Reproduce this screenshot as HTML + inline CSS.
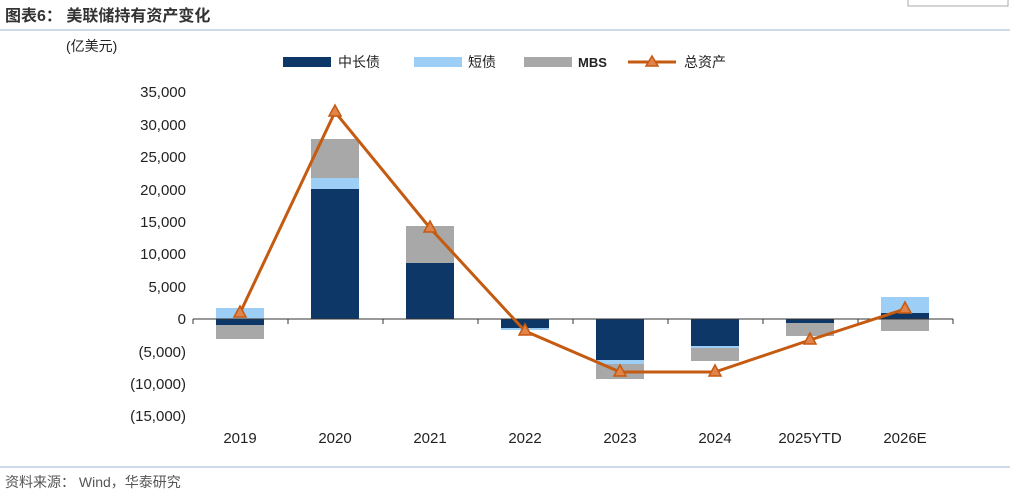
<!DOCTYPE html>
<html><head><meta charset="utf-8"><style>
body{margin:0;background:#fff;width:1024px;height:492px;overflow:hidden}
svg{display:block}
text{font-family:"Liberation Sans","Noto Sans CJK SC",sans-serif}
</style></head><body>
<svg width="1024" height="492" viewBox="0 0 1024 492">
<text x="5" y="21" font-size="16" font-weight="bold" fill="#333">图表6：  美联储持有资产变化</text>
<line x1="0" y1="30" x2="1010" y2="30" stroke="#9bb7d4" stroke-width="1"/>
<rect x="908" y="-6" width="100" height="12" fill="none" stroke="#aaa"/>
<text x="66" y="51" font-size="14" fill="#222">(亿美元)</text>
<!-- legend -->
<rect x="283" y="57" width="48" height="10" fill="#0c3767"/>
<text x="338" y="67" font-size="14" fill="#222">中长债</text>
<rect x="414" y="57" width="48" height="10" fill="#9dcef5"/>
<text x="468" y="67" font-size="14" fill="#222">短债</text>
<rect x="524" y="57" width="48" height="10" fill="#a8a8a8"/>
<text x="578" y="67" font-size="13" font-weight="bold" fill="#222">MBS</text>
<line x1="628" y1="62" x2="676" y2="62" stroke="#c55a11" stroke-width="3"/>
<polygon points="652,56 658,66 646,66" fill="#e0844a" stroke="#c55a11" stroke-width="1.5"/>
<text x="684" y="67" font-size="14" fill="#222">总资产</text>
<!-- y axis labels -->
<g font-size="15" fill="#222" text-anchor="end">
<text x="186" y="97">35,000</text>
<text x="186" y="130">30,000</text>
<text x="186" y="162">25,000</text>
<text x="186" y="195">20,000</text>
<text x="186" y="227">15,000</text>
<text x="186" y="259">10,000</text>
<text x="186" y="292">5,000</text>
<text x="186" y="324">0</text>
<text x="186" y="357">(5,000)</text>
<text x="186" y="389">(10,000)</text>
<text x="186" y="421">(15,000)</text>
</g>
<!-- bars -->
<g>
<rect x="216" y="319" width="48" height="6" fill="#0c3767"/>
<rect x="216" y="308" width="48" height="11" fill="#9dcef5"/>
<rect x="216" y="325" width="48" height="14" fill="#a8a8a8"/>

<rect x="311" y="189" width="48" height="130" fill="#0c3767"/>
<rect x="311" y="178" width="48" height="11" fill="#9dcef5"/>
<rect x="311" y="139" width="48" height="39" fill="#a8a8a8"/>

<rect x="406" y="263" width="48" height="56" fill="#0c3767"/>
<rect x="406" y="226" width="48" height="37" fill="#a8a8a8"/>

<rect x="501" y="319" width="48" height="9" fill="#0c3767"/>
<rect x="501" y="328" width="48" height="2" fill="#9dcef5"/>

<rect x="596" y="319" width="48" height="41" fill="#0c3767"/>
<rect x="596" y="360" width="48" height="4" fill="#9dcef5"/>
<rect x="596" y="364" width="48" height="15" fill="#a8a8a8"/>

<rect x="691" y="319" width="48" height="27" fill="#0c3767"/>
<rect x="691" y="346" width="48" height="2" fill="#9dcef5"/>
<rect x="691" y="348" width="48" height="13" fill="#a8a8a8"/>

<rect x="786" y="319" width="48" height="4" fill="#0c3767"/>
<rect x="786" y="323" width="48" height="13" fill="#a8a8a8"/>

<rect x="881" y="313" width="48" height="6" fill="#0c3767"/>
<rect x="881" y="297" width="48" height="16" fill="#9dcef5"/>
<rect x="881" y="319" width="48" height="12" fill="#a8a8a8"/>
</g>
<line x1="193" y1="319" x2="953" y2="319" stroke="#333" stroke-width="1"/>
<g stroke="#333"><line x1="193" y1="319" x2="193" y2="324"/><line x1="288" y1="319" x2="288" y2="324"/><line x1="383" y1="319" x2="383" y2="324"/><line x1="478" y1="319" x2="478" y2="324"/><line x1="573" y1="319" x2="573" y2="324"/><line x1="668" y1="319" x2="668" y2="324"/><line x1="763" y1="319" x2="763" y2="324"/><line x1="858" y1="319" x2="858" y2="324"/><line x1="953" y1="319" x2="953" y2="324"/></g>
<polyline points="240,313 335,112 430,228 525,331 620,372 715,372 810,340 905,309" fill="none" stroke="#c55a11" stroke-width="3"/>
<g fill="#e0844a" stroke="#c55a11" stroke-width="1.5">
<polygon points="240,306 246,317 234,317"/><polygon points="335,105 341,116 329,116"/><polygon points="430,221 436,232 424,232"/><polygon points="525,324 531,335 519,335"/><polygon points="620,365 626,376 614,376"/><polygon points="715,365 721,376 709,376"/><polygon points="810,333 816,344 804,344"/><polygon points="905,302 911,313 899,313"/>
</g>
<g font-size="15" fill="#222" text-anchor="middle">
<text x="240" y="443">2019</text><text x="335" y="443">2020</text><text x="430" y="443">2021</text><text x="525" y="443">2022</text><text x="620" y="443">2023</text><text x="715" y="443">2024</text><text x="810" y="443">2025YTD</text><text x="905" y="443">2026E</text>
</g>
<line x1="0" y1="467" x2="1010" y2="467" stroke="#9bb7d4" stroke-width="1"/>
<text x="5" y="487" font-size="14" fill="#555">资料来源：  Wind，华泰研究</text>
</svg>
</body></html>
